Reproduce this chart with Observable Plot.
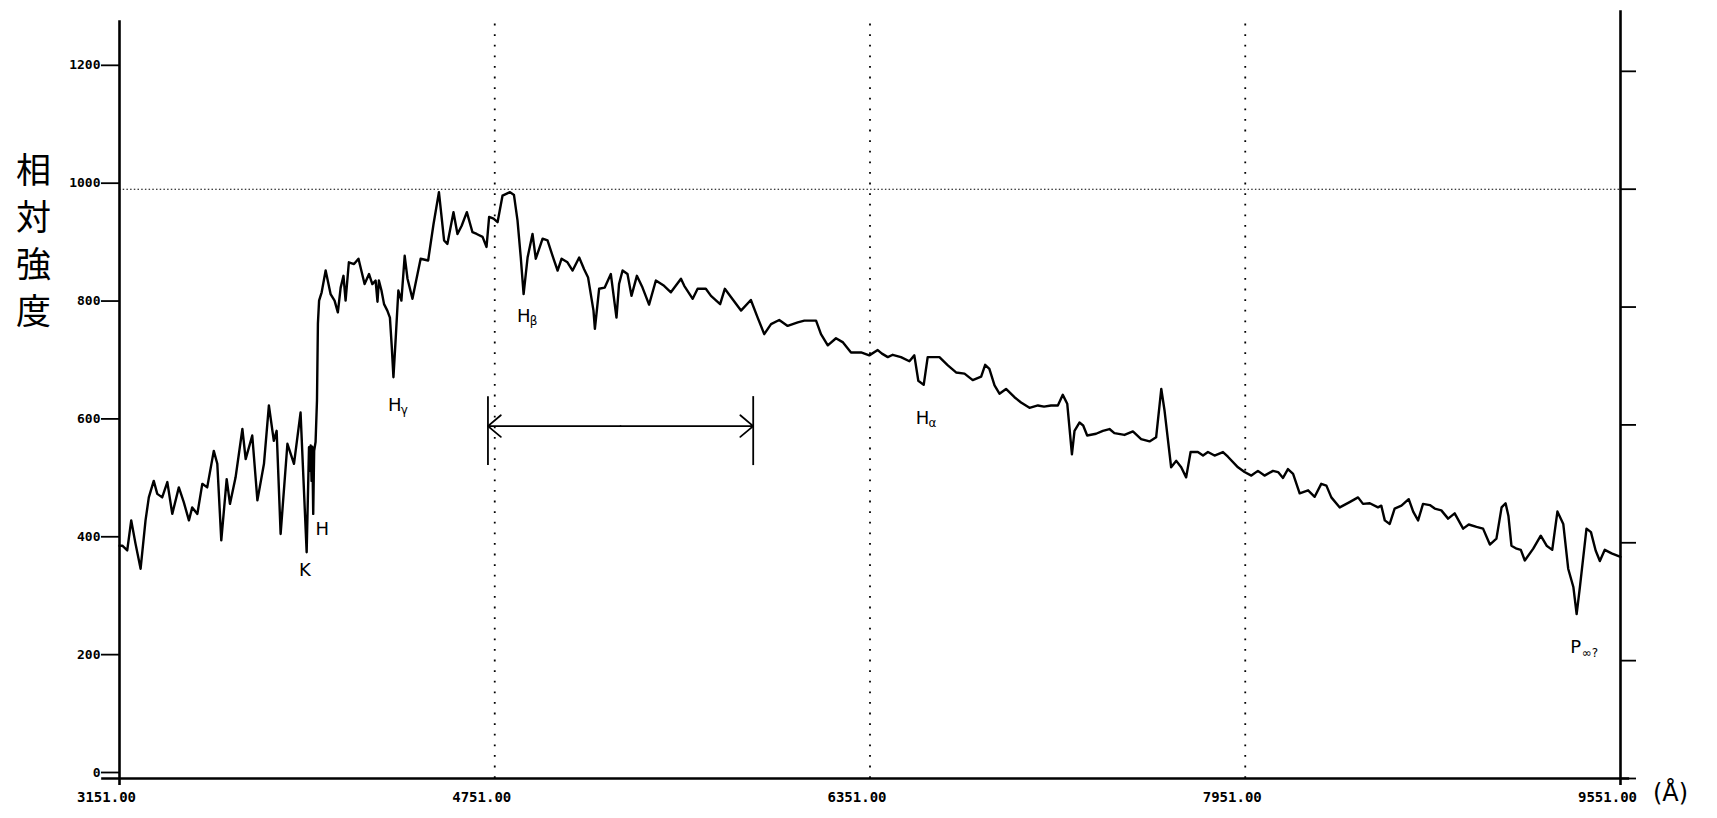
<!DOCTYPE html>
<html>
<head>
<meta charset="utf-8">
<script src="https://cdn.jsdelivr.net/npm/d3@7"></script>
<script src="https://cdn.jsdelivr.net/npm/@observablehq/plot@0.6"></script>
<style>
  html, body { margin: 0; padding: 0; background: #fff; }
  #chart svg { display: block; overflow: visible; }
</style>
</head>
<body>
<div id="chart"></div>
<script>
// Spectrum: wavelength (Å) and relative intensity
const wavelength = [3151,3163,3184,3201,3219,3241,3262,3276,3297,3312,3333,3355,3376,3404,3425,3447,3461,3483,3504,3525,3553,3568,3585,3608,3622,3646,3675,3689,3717,3739,3767,3788,3809,3821,3838,3867,3895,3923,3949,3959,3963,3966,3970,3973,3977,3981,3987,3993,3997,4002,4013,4030,4051,4068,4082,4094,4106,4115,4129,4151,4170,4179,4196,4215,4229,4243,4251,4257,4268,4279,4293,4304,4312,4319,4329,4340,4353,4367,4379,4400,4435,4467,4490,4513,4535,4549,4575,4592,4610,4632,4656,4674,4699,4716,4727,4746,4763,4784,4816,4833,4848,4862,4874,4891,4912,4926,4955,4976,5004,5019,5036,5061,5083,5111,5132,5149,5172,5178,5196,5220,5246,5270,5281,5296,5317,5334,5357,5381,5409,5438,5473,5502,5545,5559,5595,5616,5651,5673,5712,5732,5758,5801,5843,5872,5900,5929,5964,6000,6043,6071,6121,6142,6171,6206,6236,6270,6313,6348,6384,6402,6427,6448,6483,6519,6540,6557,6580,6597,6647,6683,6718,6754,6789,6825,6842,6860,6882,6903,6931,6967,6995,7031,7067,7093,7123,7152,7173,7192,7212,7223,7244,7260,7277,7315,7344,7372,7393,7436,7472,7507,7543,7571,7593,7607,7635,7657,7678,7699,7718,7749,7771,7792,7820,7856,7877,7920,7948,7977,8005,8033,8069,8091,8112,8133,8155,8183,8219,8247,8275,8297,8318,8354,8396,8432,8453,8482,8517,8531,8546,8567,8588,8617,8648,8667,8688,8709,8738,8759,8787,8816,8844,8880,8904,8937,8965,8994,9022,9044,9061,9073,9086,9108,9126,9143,9179,9211,9236,9260,9282,9307,9328,9350,9364,9378,9406,9425,9445,9463,9484,9513,9551];
const intensity = [395,395,387,438,399,356,438,477,505,483,477,503,449,494,469,438,460,449,500,494,556,534,404,508,466,511,593,542,582,472,534,633,573,590,415,568,534,621,384,562,522,565,505,563,449,556,571,641,772,811,825,862,822,811,791,833,853,811,876,873,882,867,839,856,839,845,809,845,828,805,794,782,732,681,749,828,811,887,848,814,882,879,941,995,913,907,961,924,938,961,927,924,919,902,953,950,944,989,995,990,947,884,822,884,924,882,916,913,879,862,882,876,862,884,864,850,794,763,831,833,856,782,839,862,856,819,853,833,804,845,836,825,848,836,814,831,831,819,805,831,817,794,812,782,754,771,778,768,774,777,777,754,735,747,740,723,723,718,727,721,715,719,715,708,718,675,668,715,715,701,689,687,676,682,702,695,667,653,661,647,638,629,633,631,633,633,651,636,550,590,604,599,582,585,590,593,586,583,589,576,572,579,661,624,528,539,528,511,554,554,548,554,548,554,546,528,520,514,522,514,522,520,510,525,517,484,489,478,500,497,477,460,469,477,466,467,460,463,438,432,458,463,474,453,438,466,464,458,455,441,450,424,431,427,424,397,407,460,467,446,395,390,388,370,390,412,395,388,453,432,356,325,279,325,424,418,387,369,388,382,376];

// Axis ticks and labels
const yTicks = [0, 200, 400, 600, 800, 1000, 1200];
const yTickLabels = ["0", "200", "400", "600", "800", "1000", "1200"];
const xTicks = [3151, 4751, 6351, 7951, 9551];
const xTickLabels = ["3151.00", "4751.00", "6351.00", "7951.00", "9551.00"];
const gridX = [4751, 6351, 7951];
const gridY = [1000];

// Axis title characters (written vertically)
const titleChars = ["相", "対", "強", "度"];

// Spectral line annotations (main letter, subscript, anchor in data units)
const lineNames = ["K", "H", "H", "H", "H", "P"];
const lineSubs = ["", "", "γ", "β", "α", "∞?"];
const lineX = [3942, 4016, 4325, 4875, 6575, 9360];
const lineY = [354, 423, 634, 784, 612, 222];

// Bracketed band (arrow)
const bandStart = 4722;
const bandEnd = 5853;
const bandLevel = 598;
const bandLow = 531;
const bandHigh = 648;

const spectrum = wavelength.map((w, i) => ({w, v: intensity[i]}));
const labels = lineNames.map((n, i) => ({n, s: lineSubs[i], x: lineX[i], y: lineY[i]}));
const mid = (bandStart + bandEnd) / 2;

const tickFont = "'DejaVu Sans Mono', monospace";
const handFont = "'DejaVu Sans', sans-serif";

const titleMarks = titleChars.map((c, i) => Plot.text([c], {
  frameAnchor: "left", dx: -86, dy: -221 + i * 47,
  fontFamily: "'Noto Sans CJK JP', sans-serif", fontSize: 35, fontWeight: 400,
  textAnchor: "middle", lineAnchor: "middle", fill: "#000"
}));

const chart = Plot.plot({
  width: 1717,
  height: 818,
  marginLeft: 119,
  marginRight: 97,
  marginTop: 6,
  marginBottom: 40,
  x: {domain: [3151, 9551]},
  y: {domain: [0, 1310]},
  style: {background: "#fff", color: "#000"},
  marks: [
    // dotted reference lines
    Plot.ruleY(gridY, {x1: 3151, x2: 9551, stroke: "#000", strokeWidth: 1.1, strokeDasharray: "1.5,2.2"}),
    Plot.ruleX(gridX, {y1: 0, y2: 1293, stroke: "#000", strokeWidth: 1.8, strokeDasharray: "1.8,8.8"}),
    // frame lines
    Plot.ruleX([3151], {y1: -12, y2: 1286, stroke: "#000", strokeWidth: 2.6}),
    Plot.ruleX([9551], {y1: -12, y2: 1303, stroke: "#000", strokeWidth: 2.6}),
    Plot.ruleY([0], {x1: 3075, x2: 9590, stroke: "#000", strokeWidth: 2.6}),
    // left axis ticks + labels
    Plot.axisY({
      anchor: "left", ticks: yTicks, tickFormat: (d) => yTickLabels[yTicks.indexOf(d)],
      tickSize: 18, tickPadding: 1, strokeWidth: 1.8, label: null,
      fontFamily: tickFont, fontWeight: "bold", fontSize: 13, dy: -6
    }),
    // right axis ticks (no labels)
    Plot.axisY({
      anchor: "right", ticks: yTicks, tickFormat: () => "", tickSize: 15,
      strokeWidth: 1.8, label: null
    }),
    // bottom axis labels
    Plot.axisX({
      ticks: xTicks, tickFormat: (d) => xTickLabels[xTicks.indexOf(d)],
      tickSize: 0, tickPadding: 14, label: null, dx: -13,
      fontFamily: tickFont, fontWeight: "bold", fontSize: 14
    }),
    // spectrum
    Plot.line(spectrum, {x: "w", y: "v", stroke: "#000", strokeWidth: 2.4, strokeLinejoin: "round"}),
    // band bracket
    Plot.ruleX([bandStart, bandEnd], {y1: bandLow, y2: bandHigh, stroke: "#000", strokeWidth: 1.8}),
    Plot.arrow([{a: mid, b: bandStart}, {a: mid, b: bandEnd}], {
      x1: "a", x2: "b", y1: bandLevel, y2: bandLevel, stroke: "#000", strokeWidth: 1.8,
      headLength: 14, headAngle: 80
    }),
    // spectral line labels
    Plot.text(labels, {x: "x", y: "y", text: "n", fontFamily: handFont, fontSize: 18, fill: "#000", textAnchor: "middle"}),
    Plot.text(labels, {x: "x", y: "y", text: "s", fontFamily: handFont, fontSize: 12, fill: "#000", textAnchor: "start", dx: 6, dy: 5}),
    // axis title (vertical)
    ...titleMarks,
    // unit
    Plot.text(["(Å)"], {
      frameAnchor: "bottom-right", dx: 50, dy: 15, fontFamily: handFont,
      fontSize: 24, textAnchor: "middle", lineAnchor: "middle", fill: "#000"
    })
  ]
});
document.getElementById("chart").appendChild(chart);
</script>
</body>
</html>
